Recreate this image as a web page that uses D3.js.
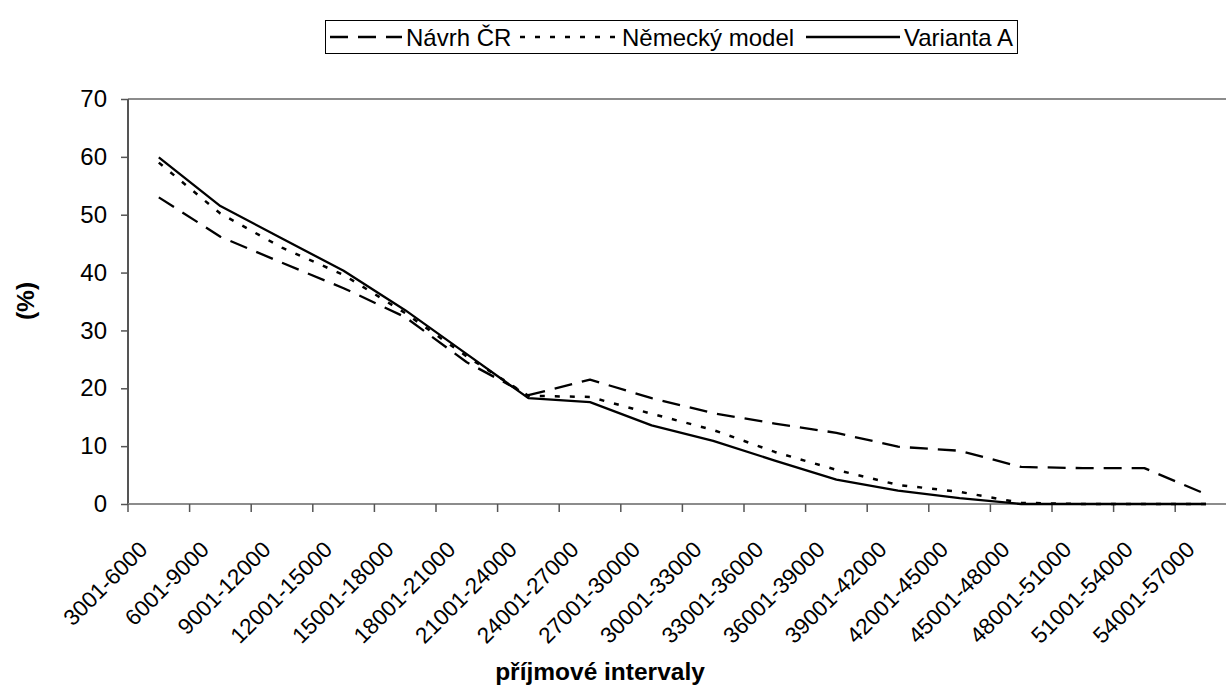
<!DOCTYPE html>
<html>
<head>
<meta charset="utf-8">
<script src="https://cdn.jsdelivr.net/npm/d3@7"></script>
<style>
  html, body { margin: 0; padding: 0; background: #fff; }
  svg { display: block; font-family: "Liberation Sans", Arial, sans-serif; }
</style>
</head>
<body>
<svg id="chart" width="1226" height="692"></svg>
<script>
// Income bands (CZK) on the category axis
const categories = [
  "3001-6000", "6001-9000", "9001-12000", "12001-15000", "15001-18000",
  "18001-21000", "21001-24000", "24001-27000", "27001-30000", "30001-33000",
  "33001-36000", "36001-39000", "39001-42000", "42001-45000", "45001-48000",
  "48001-51000", "51001-54000", "54001-57000"
];

// Share in each band (%), one array per scheme
const navrhCR = [53.0, 46.2, 41.7, 37.3, 32.3, 24.5, 18.8, 21.5, 18.3, 15.7,
                 13.9, 12.3, 9.9, 9.2, 6.4, 6.2, 6.2, 1.7];
const nemeckyModel = [59.0, 50.2, 44.3, 39.6, 33.0, 25.5, 18.7, 18.5, 15.6, 12.8,
                      9.0, 5.9, 3.3, 2.1, 0.2, 0, 0, 0];
const variantaA = [59.9, 51.5, 45.9, 40.3, 33.5, 25.9, 18.3, 17.6, 13.6, 10.9,
                   7.5, 4.2, 2.3, 1.0, 0, 0, 0, 0];

const seriesNames = ["Návrh ČR", "Německý model", "Varianta A"];
const yTicks = [0, 10, 20, 30, 40, 50, 60, 70];

const series = [
  { name: seriesNames[0], values: navrhCR, dash: "18,10", width: 2.3 },
  { name: seriesNames[1], values: nemeckyModel, dash: "5,10", width: 2.5 },
  { name: seriesNames[2], values: variantaA, dash: null, width: 2.3 }
];

const svg = d3.select("#chart");
const W = 1226;

const plotLeft = 128, plotTop = 99, plotBottom = 504;
const step = 61.6;

const x = d3.scaleBand()
  .domain(categories)
  .range([plotLeft, plotLeft + step * categories.length])
  .paddingInner(0).paddingOuter(0);

const y = d3.scaleLinear().domain([0, 70]).range([plotBottom, plotTop]);

const tickFont = 24;
const catFont = 22.5;
const legendFont = 24;
const titleFont = 24.5;

// Plot-area top border
svg.append("line")
  .attr("x1", plotLeft).attr("x2", W)
  .attr("y1", y(70)).attr("y2", y(70))
  .attr("stroke", "#8c8c8c").attr("stroke-width", 2);

// Y axis
const yAxis = svg.append("g")
  .attr("transform", `translate(${plotLeft},0)`)
  .call(d3.axisLeft(y).tickValues(yTicks).tickSize(7).tickPadding(14).tickFormat(d3.format("d")));
yAxis.select(".domain").attr("stroke", "#555").attr("stroke-width", 2)
  .attr("d", `M0,${y(70)}V${y(0)}`);
yAxis.selectAll(".tick line").attr("stroke", "#555").attr("stroke-width", 1.5);
yAxis.selectAll(".tick text")
  .attr("font-size", tickFont).attr("fill", "#000")
  .attr("font-family", "Liberation Sans, Arial, sans-serif");

// X axis baseline
svg.append("line")
  .attr("x1", plotLeft).attr("x2", W)
  .attr("y1", plotBottom).attr("y2", plotBottom)
  .attr("stroke", "#8c8c8c").attr("stroke-width", 2);

// X tick marks at band boundaries
const boundaries = categories.map(c => x(c));
svg.append("g").selectAll("line")
  .data(boundaries)
  .join("line")
  .attr("x1", d => d).attr("x2", d => d)
  .attr("y1", plotBottom).attr("y2", plotBottom + 8)
  .attr("stroke", "#555").attr("stroke-width", 1.5);

// X tick labels, rotated
svg.append("g").selectAll("text")
  .data(categories)
  .join("text")
  .attr("transform", d => `translate(${x(d) + x.bandwidth() / 2 - 10},${551}) rotate(-45)`)
  .attr("text-anchor", "end")
  .attr("font-size", catFont)
  .attr("fill", "#000")
  .text(d => d);

// Series lines
const line = d3.line()
  .x((d, i) => x(categories[i]) + x.bandwidth() / 2)
  .y(d => y(d));

svg.append("g").selectAll("path")
  .data(series)
  .join("path")
  .attr("d", d => line(d.values))
  .attr("fill", "none")
  .attr("stroke", "#000")
  .attr("stroke-width", d => d.width)
  .attr("stroke-dasharray", d => d.dash)
  .attr("stroke-linejoin", "round");

// Axis titles
svg.append("text")
  .attr("transform", "translate(34,301) rotate(-90)")
  .attr("text-anchor", "middle")
  .attr("font-size", titleFont)
  .attr("font-weight", "bold")
  .text("(%)");

svg.append("text")
  .attr("x", 600).attr("y", 680)
  .attr("text-anchor", "middle")
  .attr("font-size", titleFont)
  .attr("font-weight", "bold")
  .text("příjmové intervaly");

// Legend
const legend = svg.append("g");
const legendY = 37;
const sampleStart = [330, 520, 806];
const sampleLen = [72, 98, 94];
let right = 0;
series.forEach((s, i) => {
  legend.append("line")
    .attr("x1", sampleStart[i]).attr("x2", sampleStart[i] + sampleLen[i])
    .attr("y1", legendY).attr("y2", legendY)
    .attr("stroke", "#000")
    .attr("stroke-width", s.width)
    .attr("stroke-dasharray", s.dash);
  const t = legend.append("text")
    .attr("x", sampleStart[i] + sampleLen[i] + 4).attr("y", legendY + 9)
    .attr("font-size", legendFont)
    .text(s.name);
  right = sampleStart[i] + sampleLen[i] + 4 + t.node().getComputedTextLength();
});
legend.insert("rect", ":first-child")
  .attr("x", 325.5).attr("y", 20.5)
  .attr("width", Math.max(right + 4, 1015) - 325).attr("height", 33)
  .attr("fill", "#fff").attr("stroke", "#000").attr("stroke-width", 1);
</script>
</body>
</html>
